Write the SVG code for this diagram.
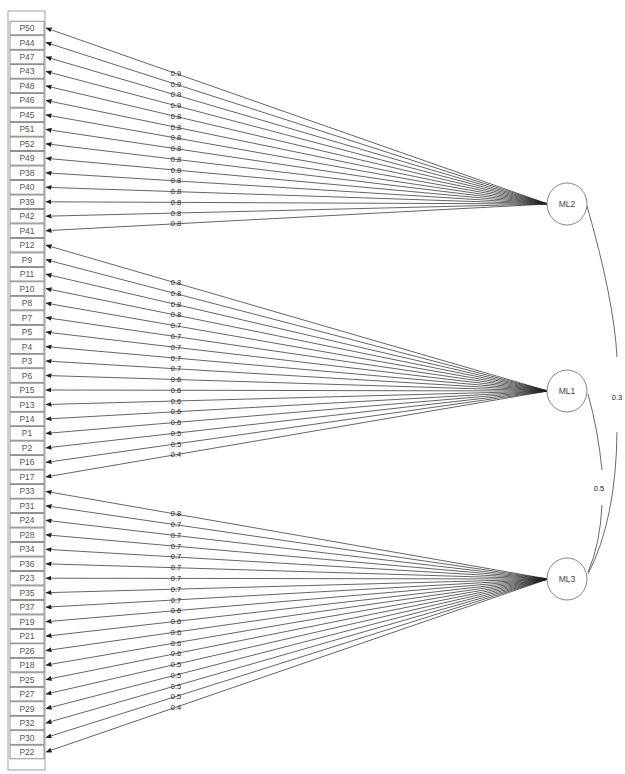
<svg xmlns="http://www.w3.org/2000/svg" width="625" height="774" viewBox="0 0 625 774">
<defs>
<marker id="ah" markerWidth="6" markerHeight="5" refX="5.5" refY="2.5" orient="auto" markerUnits="userSpaceOnUse">
<path d="M0,0 L6,2.5 L0,5 Z" fill="#222"/>
</marker>
</defs>
<style>
.v{fill:#fff;stroke:#777;stroke-width:0.8}
.vt{font-family:"Liberation Sans",Arial,sans-serif;font-size:8.5px;fill:#555;text-anchor:middle}
.ln{stroke:#222;stroke-width:0.7;fill:none;marker-end:url(#ah)}
.ld{font-family:"Liberation Sans",Arial,sans-serif;font-size:7.5px;fill:#222;text-anchor:middle}
.f{fill:#fff;stroke:#666;stroke-width:0.8}
.ft{font-family:"Liberation Sans",Arial,sans-serif;font-size:8.5px;fill:#444;text-anchor:middle}
.cv{stroke:#444;stroke-width:0.8;fill:none}
</style>
<rect x="8" y="11" width="37" height="759" fill="#fff" stroke="#888" stroke-width="0.8"/>
<g id="connectors">
<line class="ln" x1="548" y1="204" x2="46" y2="28"/>
<line class="ln" x1="548" y1="204" x2="46" y2="42.5"/>
<line class="ln" x1="548" y1="204" x2="46" y2="57"/>
<line class="ln" x1="548" y1="204" x2="46" y2="71.4"/>
<line class="ln" x1="548" y1="204" x2="46" y2="85.9"/>
<line class="ln" x1="548" y1="204" x2="46" y2="100.4"/>
<line class="ln" x1="548" y1="204" x2="46" y2="114.9"/>
<line class="ln" x1="548" y1="204" x2="46" y2="129.4"/>
<line class="ln" x1="548" y1="204" x2="46" y2="143.8"/>
<line class="ln" x1="548" y1="204" x2="46" y2="158.3"/>
<line class="ln" x1="548" y1="204" x2="46" y2="172.8"/>
<line class="ln" x1="548" y1="204" x2="46" y2="187.3"/>
<line class="ln" x1="548" y1="204" x2="46" y2="201.8"/>
<line class="ln" x1="548" y1="204" x2="46" y2="216.2"/>
<line class="ln" x1="548" y1="204" x2="46" y2="230.7"/>
<line class="ln" x1="548" y1="391" x2="46" y2="245.2"/>
<line class="ln" x1="548" y1="391" x2="46" y2="259.7"/>
<line class="ln" x1="548" y1="391" x2="46" y2="274.2"/>
<line class="ln" x1="548" y1="391" x2="46" y2="288.6"/>
<line class="ln" x1="548" y1="391" x2="46" y2="303.1"/>
<line class="ln" x1="548" y1="391" x2="46" y2="317.6"/>
<line class="ln" x1="548" y1="391" x2="46" y2="332.1"/>
<line class="ln" x1="548" y1="391" x2="46" y2="346.6"/>
<line class="ln" x1="548" y1="391" x2="46" y2="361"/>
<line class="ln" x1="548" y1="391" x2="46" y2="375.5"/>
<line class="ln" x1="548" y1="391" x2="46" y2="390"/>
<line class="ln" x1="548" y1="391" x2="46" y2="404.5"/>
<line class="ln" x1="548" y1="391" x2="46" y2="419"/>
<line class="ln" x1="548" y1="391" x2="46" y2="433.4"/>
<line class="ln" x1="548" y1="391" x2="46" y2="447.9"/>
<line class="ln" x1="548" y1="391" x2="46" y2="462.4"/>
<line class="ln" x1="548" y1="391" x2="46" y2="476.9"/>
<line class="ln" x1="548" y1="579" x2="46" y2="491.4"/>
<line class="ln" x1="548" y1="579" x2="46" y2="505.8"/>
<line class="ln" x1="548" y1="579" x2="46" y2="520.3"/>
<line class="ln" x1="548" y1="579" x2="46" y2="534.8"/>
<line class="ln" x1="548" y1="579" x2="46" y2="549.3"/>
<line class="ln" x1="548" y1="579" x2="46" y2="563.8"/>
<line class="ln" x1="548" y1="579" x2="46" y2="578.2"/>
<line class="ln" x1="548" y1="579" x2="46" y2="592.7"/>
<line class="ln" x1="548" y1="579" x2="46" y2="607.2"/>
<line class="ln" x1="548" y1="579" x2="46" y2="621.7"/>
<line class="ln" x1="548" y1="579" x2="46" y2="636.2"/>
<line class="ln" x1="548" y1="579" x2="46" y2="650.6"/>
<line class="ln" x1="548" y1="579" x2="46" y2="665.1"/>
<line class="ln" x1="548" y1="579" x2="46" y2="679.6"/>
<line class="ln" x1="548" y1="579" x2="46" y2="694.1"/>
<line class="ln" x1="548" y1="579" x2="46" y2="708.6"/>
<line class="ln" x1="548" y1="579" x2="46" y2="723"/>
<line class="ln" x1="548" y1="579" x2="46" y2="737.5"/>
<line class="ln" x1="548" y1="579" x2="46" y2="752"/>
<path class="cv" d="M587,206 Q614,300 617,357"/>
<path class="cv" d="M617,432 Q616,520 588,574"/>
<path class="cv" d="M588,394 Q598,430 602,470"/>
<path class="cv" d="M602,505 Q600,545 588,572"/>
</g>
<g id="loadings">
<text class="ld" x="176" y="75.7">0.9</text>
<text class="ld" x="176" y="86.5">0.9</text>
<text class="ld" x="176" y="97.3">0.9</text>
<text class="ld" x="176" y="108">0.9</text>
<text class="ld" x="176" y="118.8">0.8</text>
<text class="ld" x="176" y="129.5">0.8</text>
<text class="ld" x="176" y="140.3">0.8</text>
<text class="ld" x="176" y="151.1">0.8</text>
<text class="ld" x="176" y="161.8">0.8</text>
<text class="ld" x="176" y="172.5">0.8</text>
<text class="ld" x="176" y="183.3">0.8</text>
<text class="ld" x="176" y="194.1">0.8</text>
<text class="ld" x="176" y="204.9">0.8</text>
<text class="ld" x="176" y="215.6">0.8</text>
<text class="ld" x="176" y="226.3">0.8</text>
<text class="ld" x="176" y="285.2">0.8</text>
<text class="ld" x="176" y="295.9">0.8</text>
<text class="ld" x="176" y="306.7">0.8</text>
<text class="ld" x="176" y="317.4">0.8</text>
<text class="ld" x="176" y="328.2">0.7</text>
<text class="ld" x="176" y="339">0.7</text>
<text class="ld" x="176" y="349.7">0.7</text>
<text class="ld" x="176" y="360.5">0.7</text>
<text class="ld" x="176" y="371.2">0.7</text>
<text class="ld" x="176" y="382">0.6</text>
<text class="ld" x="176" y="392.8">0.6</text>
<text class="ld" x="176" y="403.5">0.6</text>
<text class="ld" x="176" y="414.3">0.6</text>
<text class="ld" x="176" y="425">0.6</text>
<text class="ld" x="176" y="435.8">0.5</text>
<text class="ld" x="176" y="446.5">0.5</text>
<text class="ld" x="176" y="457.3">0.4</text>
<text class="ld" x="176" y="516.4">0.8</text>
<text class="ld" x="176" y="527.1">0.7</text>
<text class="ld" x="176" y="537.9">0.7</text>
<text class="ld" x="176" y="548.7">0.7</text>
<text class="ld" x="176" y="559.4">0.7</text>
<text class="ld" x="176" y="570.2">0.7</text>
<text class="ld" x="176" y="580.9">0.7</text>
<text class="ld" x="176" y="591.7">0.7</text>
<text class="ld" x="176" y="602.5">0.7</text>
<text class="ld" x="176" y="613.2">0.6</text>
<text class="ld" x="176" y="624">0.6</text>
<text class="ld" x="176" y="634.7">0.6</text>
<text class="ld" x="176" y="645.5">0.6</text>
<text class="ld" x="176" y="656.2">0.6</text>
<text class="ld" x="176" y="667">0.5</text>
<text class="ld" x="176" y="677.8">0.5</text>
<text class="ld" x="176" y="688.5">0.5</text>
<text class="ld" x="176" y="699.3">0.5</text>
<text class="ld" x="176" y="710">0.4</text>
<text class="ld" x="617" y="400">0.3</text>
<text class="ld" x="599" y="491">0.5</text>
</g>
<g id="variables">
<g id="v-P50"><rect class="v" x="10" y="21.2" width="34" height="13.6"/><text class="vt" x="27" y="31">P50</text></g>
<g id="v-P44"><rect class="v" x="10" y="35.7" width="34" height="13.6"/><text class="vt" x="27" y="45.5">P44</text></g>
<g id="v-P47"><rect class="v" x="10" y="50.2" width="34" height="13.6"/><text class="vt" x="27" y="60">P47</text></g>
<g id="v-P43"><rect class="v" x="10" y="64.6" width="34" height="13.6"/><text class="vt" x="27" y="74.4">P43</text></g>
<g id="v-P48"><rect class="v" x="10" y="79.1" width="34" height="13.6"/><text class="vt" x="27" y="88.9">P48</text></g>
<g id="v-P46"><rect class="v" x="10" y="93.6" width="34" height="13.6"/><text class="vt" x="27" y="103.4">P46</text></g>
<g id="v-P45"><rect class="v" x="10" y="108.1" width="34" height="13.6"/><text class="vt" x="27" y="117.9">P45</text></g>
<g id="v-P51"><rect class="v" x="10" y="122.6" width="34" height="13.6"/><text class="vt" x="27" y="132.4">P51</text></g>
<g id="v-P52"><rect class="v" x="10" y="137" width="34" height="13.6"/><text class="vt" x="27" y="146.8">P52</text></g>
<g id="v-P49"><rect class="v" x="10" y="151.5" width="34" height="13.6"/><text class="vt" x="27" y="161.3">P49</text></g>
<g id="v-P38"><rect class="v" x="10" y="166" width="34" height="13.6"/><text class="vt" x="27" y="175.8">P38</text></g>
<g id="v-P40"><rect class="v" x="10" y="180.5" width="34" height="13.6"/><text class="vt" x="27" y="190.3">P40</text></g>
<g id="v-P39"><rect class="v" x="10" y="195" width="34" height="13.6"/><text class="vt" x="27" y="204.8">P39</text></g>
<g id="v-P42"><rect class="v" x="10" y="209.4" width="34" height="13.6"/><text class="vt" x="27" y="219.2">P42</text></g>
<g id="v-P41"><rect class="v" x="10" y="223.9" width="34" height="13.6"/><text class="vt" x="27" y="233.7">P41</text></g>
<g id="v-P12"><rect class="v" x="10" y="238.4" width="34" height="13.6"/><text class="vt" x="27" y="248.2">P12</text></g>
<g id="v-P9"><rect class="v" x="10" y="252.9" width="34" height="13.6"/><text class="vt" x="27" y="262.7">P9</text></g>
<g id="v-P11"><rect class="v" x="10" y="267.4" width="34" height="13.6"/><text class="vt" x="27" y="277.2">P11</text></g>
<g id="v-P10"><rect class="v" x="10" y="281.8" width="34" height="13.6"/><text class="vt" x="27" y="291.6">P10</text></g>
<g id="v-P8"><rect class="v" x="10" y="296.3" width="34" height="13.6"/><text class="vt" x="27" y="306.1">P8</text></g>
<g id="v-P7"><rect class="v" x="10" y="310.8" width="34" height="13.6"/><text class="vt" x="27" y="320.6">P7</text></g>
<g id="v-P5"><rect class="v" x="10" y="325.3" width="34" height="13.6"/><text class="vt" x="27" y="335.1">P5</text></g>
<g id="v-P4"><rect class="v" x="10" y="339.8" width="34" height="13.6"/><text class="vt" x="27" y="349.6">P4</text></g>
<g id="v-P3"><rect class="v" x="10" y="354.2" width="34" height="13.6"/><text class="vt" x="27" y="364">P3</text></g>
<g id="v-P6"><rect class="v" x="10" y="368.7" width="34" height="13.6"/><text class="vt" x="27" y="378.5">P6</text></g>
<g id="v-P15"><rect class="v" x="10" y="383.2" width="34" height="13.6"/><text class="vt" x="27" y="393">P15</text></g>
<g id="v-P13"><rect class="v" x="10" y="397.7" width="34" height="13.6"/><text class="vt" x="27" y="407.5">P13</text></g>
<g id="v-P14"><rect class="v" x="10" y="412.2" width="34" height="13.6"/><text class="vt" x="27" y="422">P14</text></g>
<g id="v-P1"><rect class="v" x="10" y="426.6" width="34" height="13.6"/><text class="vt" x="27" y="436.4">P1</text></g>
<g id="v-P2"><rect class="v" x="10" y="441.1" width="34" height="13.6"/><text class="vt" x="27" y="450.9">P2</text></g>
<g id="v-P16"><rect class="v" x="10" y="455.6" width="34" height="13.6"/><text class="vt" x="27" y="465.4">P16</text></g>
<g id="v-P17"><rect class="v" x="10" y="470.1" width="34" height="13.6"/><text class="vt" x="27" y="479.9">P17</text></g>
<g id="v-P33"><rect class="v" x="10" y="484.6" width="34" height="13.6"/><text class="vt" x="27" y="494.4">P33</text></g>
<g id="v-P31"><rect class="v" x="10" y="499" width="34" height="13.6"/><text class="vt" x="27" y="508.8">P31</text></g>
<g id="v-P24"><rect class="v" x="10" y="513.5" width="34" height="13.6"/><text class="vt" x="27" y="523.3">P24</text></g>
<g id="v-P28"><rect class="v" x="10" y="528" width="34" height="13.6"/><text class="vt" x="27" y="537.8">P28</text></g>
<g id="v-P34"><rect class="v" x="10" y="542.5" width="34" height="13.6"/><text class="vt" x="27" y="552.3">P34</text></g>
<g id="v-P36"><rect class="v" x="10" y="557" width="34" height="13.6"/><text class="vt" x="27" y="566.8">P36</text></g>
<g id="v-P23"><rect class="v" x="10" y="571.4" width="34" height="13.6"/><text class="vt" x="27" y="581.2">P23</text></g>
<g id="v-P35"><rect class="v" x="10" y="585.9" width="34" height="13.6"/><text class="vt" x="27" y="595.7">P35</text></g>
<g id="v-P37"><rect class="v" x="10" y="600.4" width="34" height="13.6"/><text class="vt" x="27" y="610.2">P37</text></g>
<g id="v-P19"><rect class="v" x="10" y="614.9" width="34" height="13.6"/><text class="vt" x="27" y="624.7">P19</text></g>
<g id="v-P21"><rect class="v" x="10" y="629.4" width="34" height="13.6"/><text class="vt" x="27" y="639.2">P21</text></g>
<g id="v-P26"><rect class="v" x="10" y="643.8" width="34" height="13.6"/><text class="vt" x="27" y="653.6">P26</text></g>
<g id="v-P18"><rect class="v" x="10" y="658.3" width="34" height="13.6"/><text class="vt" x="27" y="668.1">P18</text></g>
<g id="v-P25"><rect class="v" x="10" y="672.8" width="34" height="13.6"/><text class="vt" x="27" y="682.6">P25</text></g>
<g id="v-P27"><rect class="v" x="10" y="687.3" width="34" height="13.6"/><text class="vt" x="27" y="697.1">P27</text></g>
<g id="v-P29"><rect class="v" x="10" y="701.8" width="34" height="13.6"/><text class="vt" x="27" y="711.6">P29</text></g>
<g id="v-P32"><rect class="v" x="10" y="716.2" width="34" height="13.6"/><text class="vt" x="27" y="726">P32</text></g>
<g id="v-P30"><rect class="v" x="10" y="730.7" width="34" height="13.6"/><text class="vt" x="27" y="740.5">P30</text></g>
<g id="v-P22"><rect class="v" x="10" y="745.2" width="34" height="13.6"/><text class="vt" x="27" y="755">P22</text></g>
</g>
<g id="ML2"><ellipse class="f" cx="567" cy="204" rx="20" ry="21"/><text class="ft" x="567" y="207">ML2</text></g>
<g id="ML1"><ellipse class="f" cx="567" cy="391" rx="20" ry="21"/><text class="ft" x="567" y="394">ML1</text></g>
<g id="ML3"><ellipse class="f" cx="567" cy="579" rx="20" ry="21"/><text class="ft" x="567" y="582">ML3</text></g>
</svg>
